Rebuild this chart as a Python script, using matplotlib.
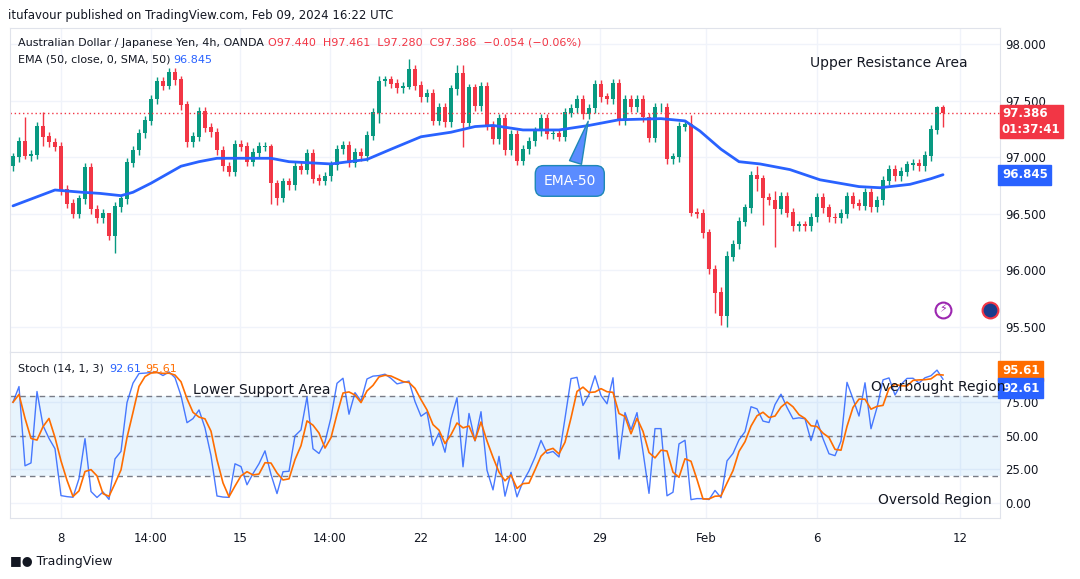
import matplotlib.pyplot as plt
import numpy as np
import pandas as pd

# AUD/JPY 4h closes (first open 96.92)
first_open = 96.92
closes = [
    97.00, 97.14, 97.01, 97.02, 97.27, 97.18, 97.13, 97.09, 96.71, 96.59,
    96.50, 96.63, 96.91, 96.54, 96.46, 96.50, 96.30, 96.56, 96.63, 96.95,
    97.06, 97.21, 97.32, 97.51, 97.67, 97.63, 97.75, 97.68, 97.46, 97.13,
    97.18, 97.40, 97.26, 97.22, 97.06, 96.92, 96.87, 97.11, 97.09, 96.96,
    97.04, 97.09, 97.09, 96.77, 96.64, 96.78, 96.75, 96.92, 96.89, 97.03,
    96.81, 96.79, 96.83, 96.93, 97.07, 97.10, 96.95, 97.04, 97.01, 97.19,
    97.39, 97.67, 97.68, 97.65, 97.61, 97.62, 97.77, 97.63, 97.53, 97.56,
    97.32, 97.44, 97.31, 97.60, 97.74, 97.30, 97.61, 97.45, 97.62, 97.28,
    97.16, 97.34, 97.06, 97.20, 96.97, 97.07, 97.14, 97.23, 97.34, 97.20,
    97.21, 97.18, 97.39, 97.43, 97.51, 97.38, 97.43, 97.64, 97.53, 97.51,
    97.65, 97.32, 97.51, 97.44, 97.51, 97.35, 97.17, 97.44, 97.44, 96.98,
    97.00, 97.27, 97.29, 96.51, 96.50, 96.33, 96.01, 95.80, 95.60, 96.12,
    96.23, 96.43, 96.55, 96.84, 96.81, 96.64, 96.62, 96.54, 96.65, 96.51,
    96.39, 96.40, 96.39, 96.47, 96.64, 96.55, 96.47, 96.46, 96.50, 96.65,
    96.59, 96.57, 96.69, 96.56, 96.62, 96.79, 96.89, 96.83, 96.87, 96.93,
    96.94, 96.92, 97.01, 97.24, 97.44, 97.386,
]
# notable wick extremes: index -> (high, low)
extremes = {
    2: (97.35, 96.98), 5: (97.40, 97.10), 16: (96.50, 96.27), 17: (96.60, 96.15),
    26: (97.79, 97.60), 43: (97.12, 96.59), 44: (96.80, 96.58), 61: (97.72, 97.30),
    66: (97.87, 97.60), 74: (97.81, 97.55), 75: (97.81, 97.09), 113: (97.37, 96.48),
    117: (96.05, 95.62), 118: (95.85, 95.52), 119: (96.17, 95.50), 124: (96.92, 96.70),
    125: (96.84, 96.40), 127: (96.70, 96.21), 154: (97.45, 97.20), 155: (97.46, 97.27),
}
wick = 0.04

# EMA line: (candle index, value)
ema_idx = [0, 7, 11.5, 14.5, 18, 20, 23, 28, 31, 34, 40, 43, 46, 53, 59, 63, 68, 73,
           77, 80, 85, 91, 96, 101, 108, 112, 114.5, 118, 121, 124.5, 129.5, 134.5,
           141, 144.5, 149.5, 153, 155]
ema_val = [96.57, 96.71, 96.69, 96.68, 96.66, 96.69, 96.77, 96.92, 96.96, 96.99, 96.99,
           96.99, 96.96, 96.94, 96.98, 97.07, 97.18, 97.22, 97.27, 97.28, 97.24, 97.24,
           97.28, 97.33, 97.34, 97.32, 97.23, 97.07, 96.96, 96.94, 96.89, 96.80, 96.74,
           96.73, 96.76, 96.81, 96.845]

date_pos = [8, 23, 37.8, 52.8, 68, 83, 97.8, 115.5, 134, 157.8]
date_labels = ["8", "14:00", "15", "14:00", "22", "14:00", "29", "Feb", "6", "12"]

GREEN = "#089981"
RED = "#f23645"
BLUE = "#2962ff"
ORANGE = "#ff6d00"
GRID = "#f0f3fa"
TXT = "#131722"

c = np.array(closes)
o = np.concatenate([[first_open], c[:-1]])
h = np.maximum(o, c) + wick
l = np.minimum(o, c) - wick
for i, (hi, lo) in extremes.items():
    h[i], l[i] = hi, lo
n = len(c)
x = np.arange(n)

fig = plt.figure(figsize=(10.8, 5.79), dpi=100)
W, H = 1080, 579


def fx(px):
    return px / W


def fy(py):
    return 1 - py / H


ax = fig.add_axes([fx(10), fy(352), fx(990), fy(28) - fy(352)])
ax2 = fig.add_axes([fx(10), fy(518), fx(990), fy(352) - fy(518)])

for a in (ax, ax2):
    a.set_xlim(-0.5, 164.5)
    for s in a.spines.values():
        s.set_color("#e0e3eb")
    a.yaxis.tick_right()
    a.tick_params(length=0, labelsize=8.5, colors=TXT)
    a.set_xticks(date_pos)
    a.grid(True, color=GRID, lw=1)
    a.set_axisbelow(True)

# ── candles ────────────────────────────────────────────────────────
ax.set_ylim(95.28, 98.14)
cols = np.where(c >= o, GREEN, RED)
ax.vlines(x, l, h, colors=cols, lw=1)
ax.bar(x, np.abs(c - o) + 0.006, bottom=np.minimum(o, c), width=0.65, color=cols)
ax.plot(ema_idx, ema_val, color=BLUE, lw=2, solid_capstyle="round", solid_joinstyle="round")
ax.axhline(c[-1], color=RED, ls=(0, (1, 2)), lw=1)
ax.set_yticks([95.5, 96.0, 96.5, 97.0, 97.5, 98.0])
ax.set_yticklabels([f"{v:.3f}" for v in [95.5, 96.0, 96.5, 97.0, 97.5, 98.0]])
ax.set_xticklabels([])

ax.text(1.002, c[-1] + 0.055, "97.386\n01:37:41", transform=ax.get_yaxis_transform(),
        color="white", fontsize=8.5, va="top", ha="left", fontweight="bold", linespacing=1.25,
        bbox=dict(boxstyle="square,pad=0.2", fc=RED, ec=RED))
ax.text(1.002, ema_val[-1], "96.845", transform=ax.get_yaxis_transform(),
        color="white", fontsize=8.5, va="center", ha="left", fontweight="bold",
        bbox=dict(boxstyle="square,pad=0.3", fc=BLUE, ec=BLUE))

ax.text(0.008, 0.955, "Australian Dollar / Japanese Yen, 4h, OANDA", transform=ax.transAxes,
        fontsize=8, color=TXT, va="center")
ax.text(0.261, 0.955, "O97.440  H97.461  L97.280  C97.386  \u22120.054 (\u22120.06%)",
        transform=ax.transAxes, fontsize=8, color=RED, va="center")
ax.text(0.008, 0.902, "EMA (50, close, 0, SMA, 50)", transform=ax.transAxes,
        fontsize=8, color=TXT, va="center")
ax.text(0.165, 0.902, "96.845", transform=ax.transAxes, fontsize=8, color=BLUE, va="center")

ax.text(146, 97.83, "Upper Resistance Area", fontsize=10, color=TXT, ha="center", va="center")
ax.annotate("EMA-50", xy=(96, 97.34), xytext=(92.8, 96.79), fontsize=10, color="white",
            ha="center", va="center",
            bbox=dict(boxstyle="round,pad=0.6", fc="#5b8cff", ec="#1e88b5"),
            arrowprops=dict(arrowstyle="wedge,tail_width=0.9", fc="#5b8cff", ec="#1e88b5"))
# small badges
ax.scatter([155.0], [95.655], s=130, fc="white", ec="#9c27b0", lw=1.5, zorder=5, clip_on=False)
ax.text(155.0, 95.655, "\u26a1", color="#9c27b0", fontsize=8, ha="center", va="center", zorder=6)
ax.scatter([162.8], [95.655], s=130, fc="#1a3c8c", ec=RED, lw=1.5, zorder=5, clip_on=False)

# ── stochastic ─────────────────────────────────────────────────────
hh = pd.Series(h).rolling(14, min_periods=1).max()
ll = pd.Series(l).rolling(14, min_periods=1).min()
k = 100 * (pd.Series(c) - ll) / (hh - ll)
d = k.rolling(3, min_periods=1).mean()

ax2.set_ylim(-11.2, 112.4)
ax2.axhspan(20, 80, color="#2196f3", alpha=0.1, lw=0)
for lev in (80, 50, 20):
    ax2.axhline(lev, color="#787b86", ls=(0, (4, 3)), lw=1)
ax2.plot(x, k, color=BLUE, lw=1, alpha=0.85)
ax2.plot(x, d, color=ORANGE, lw=1.2)
ax2.set_yticks([0, 25, 50, 75])
ax2.set_yticklabels(["0.00", "25.00", "50.00", "75.00"])
ax2.set_xticklabels(date_labels)
ax2.tick_params(axis="x", pad=10)
ax2.text(1.002, 98.5, "95.61", transform=ax2.get_yaxis_transform(), color="white",
         fontsize=8.5, va="center", fontweight="bold",
         bbox=dict(boxstyle="square,pad=0.3", fc=ORANGE, ec=ORANGE))
ax2.text(1.002, 85.5, "92.61", transform=ax2.get_yaxis_transform(), color="white",
         fontsize=8.5, va="center", fontweight="bold",
         bbox=dict(boxstyle="square,pad=0.3", fc=BLUE, ec=BLUE))
ax2.text(0.008, 0.9, "Stoch (14, 1, 3)", transform=ax2.transAxes, fontsize=8, color=TXT,
         va="center")
ax2.text(0.1, 0.9, "92.61", transform=ax2.transAxes, fontsize=8, color=BLUE, va="center")
ax2.text(0.137, 0.9, "95.61", transform=ax2.transAxes, fontsize=8, color=ORANGE, va="center")
ax2.text(41.5, 84, "Lower Support Area", fontsize=10, color=TXT, ha="center", va="center")
ax2.text(154.2, 86, "Overbought Region", fontsize=10, color=TXT, ha="center", va="center")
ax2.text(153.7, 2.2, "Oversold Region", fontsize=10, color=TXT, ha="center", va="center")

fig.text(fx(8), fy(15), "itufavour published on TradingView.com, Feb 09, 2024 16:22 UTC",
         fontsize=8.5, color=TXT, va="center")
fig.text(fx(10), fy(562), "\u25a0\u25cf TradingView", fontsize=9, color=TXT, va="center")

fig.savefig("out.png", dpi=100, facecolor="white")
